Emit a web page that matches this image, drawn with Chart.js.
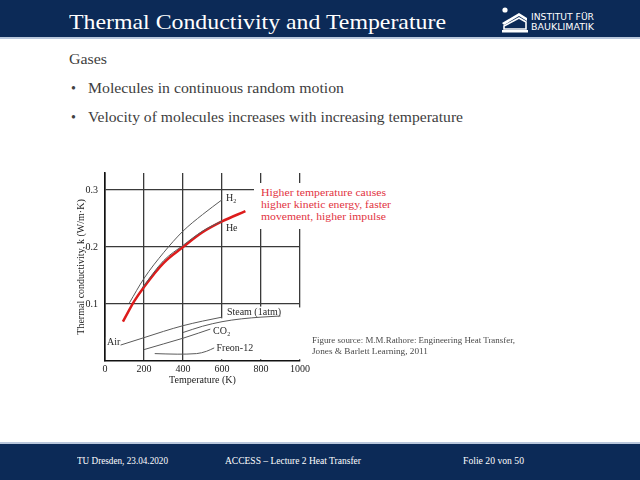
<!DOCTYPE html>
<html>
<head>
<meta charset="utf-8">
<script src="https://cdn.jsdelivr.net/npm/chart.js@4.4.0/dist/chart.umd.min.js"></script>
<style>
body { margin: 0; width: 640px; height: 480px; position: relative; overflow: hidden; background: #fff; }
.txt { position: absolute; white-space: nowrap; transform-origin: 0 0; line-height: 1; font-family: "Liberation Serif", "DejaVu Serif", serif; }
#head { position: absolute; left: 0; top: 0; width: 640px; height: 37px; background: #0c2a57; border-bottom: 2px solid #b9c7dc; }
#foot { position: absolute; left: 0; top: 442px; width: 640px; height: 38px; background: #0c2a57; border-top: 2px solid #b9c7dc; }
#chartBox { position: absolute; left: 60px; top: 160px; width: 260px; height: 235px; }
#noteBg { position: absolute; left: 254px; top: 183px; width: 146px; height: 46px; background: #fff; }
.note { color: #e2343f; font-size: 11px; }
.body { color: #404040; font-size: 14px; }
.foot { color: #fff; font-size: 10.5px; }
.src { color: #4a4a4a; font-size: 9px; }
.txt.logo { color: #fff; font-family: "DejaVu Sans", sans-serif; font-size: 9.5px; }
</style>
</head>
<body>
<div id="head"></div>
<div id="foot"></div>

<div class="txt" id="title" style="left:69px; top:10.6px; font-size:22px; color:#fff;">Thermal Conductivity and Temperature</div>
<svg style="position:absolute; left:500px; top:6px;" width="30" height="28" viewBox="0 0 30 28">
  <circle cx="5" cy="4" r="2.6" fill="#fff"/>
  <polygon points="2,17 19,7 27,12 27,15 19,10 4,19" fill="#fff"/>
  <polygon points="4,20 19,12 26,16 26,23 4,23" fill="none" stroke="#fff" stroke-width="1.6"/>
  <rect x="2" y="24" width="26" height="2.5" fill="#fff"/>
</svg>
<div class="txt logo" id="logo1" style="left:531px; top:12px;">INSTITUT FÜR</div>
<div class="txt logo" id="logo2" style="left:531px; top:21.5px;">BAUKLIMATIK</div>

<div class="txt body" id="gases" style="left:69px; top:53.3px;">Gases</div>
<div class="txt body" style="left:71px; top:82.3px;">•</div>
<div class="txt body" id="b1" style="left:88px; top:82.3px;">Molecules in continuous random motion</div>
<div class="txt body" style="left:71px; top:111px;">•</div>
<div class="txt body" id="b2" style="left:88px; top:111px;">Velocity of molecules increases with increasing temperature</div>

<div id="chartBox"><canvas id="kChart" width="260" height="235"></canvas></div>

<div id="noteBg"></div>
<div class="txt note" id="n1" style="left:261px; top:187px;">Higher temperature causes</div>
<div class="txt note" id="n2" style="left:261px; top:199.2px;">higher kinetic energy, faster</div>
<div class="txt note" id="n3" style="left:261px; top:211.4px;">movement, higher impulse</div>

<div class="txt src" id="s1" style="left:312px; top:336px;">Figure source: M.M.Rathore: Engineering Heat Transfer,</div>
<div class="txt src" id="s2" style="left:312px; top:347px;">Jones &amp; Barlett Learning, 2011</div>

<div class="txt foot" id="f1" style="left:77px; top:456px;">TU Dresden, 23.04.2020</div>
<div class="txt foot" id="f2" style="left:225px; top:456px;">ACCESS – Lecture 2 Heat Transfer</div>
<div class="txt foot" id="f3" style="left:463px; top:456px;">Folie 20 von 50</div>

<script>
// values (temperature in K, k in W/m·K)
const h2Temp = [125, 200, 300, 400, 500, 600];
const h2K = [0.102, 0.145, 0.19, 0.228, 0.257, 0.283];
const heTemp = [190, 300, 400, 500, 600];
const heK = [0.128, 0.176, 0.203, 0.228, 0.246];
const airTemp = [80, 200, 300, 400, 500, 600];
const airK = [0.028, 0.041, 0.052, 0.062, 0.07, 0.077];
const steamTemp = [400, 500, 600, 700, 800, 900];
const steamK = [0.05, 0.061, 0.069, 0.074, 0.077, 0.079];
const co2Temp = [200, 300, 400, 480, 540];
const co2K = [0.02, 0.03, 0.04, 0.049, 0.056];
const freonTemp = [255, 370, 470, 520, 560];
const freonK = [0.013, 0.012, 0.013, 0.017, 0.023];
// red hand-drawn highlight over the He curve
const redTemp = [92, 150, 200, 300, 400, 500, 600, 720];
const redK = [0.069, 0.105, 0.13, 0.172, 0.2, 0.226, 0.245, 0.263];

const tempTicks = [0, 200, 400, 600, 800, 1000];
const kTicks = [0.1, 0.2, 0.3];

const curveNames = ['H₂', 'He', 'Steam (1atm)', 'CO₂', 'Freon-12', 'Air'];
const nameTemp = [620, 620, 625, 554, 572, 10];
const nameK = [0.285, 0.233, 0.085, 0.052, 0.023, 0.032];

function pts(t, k) {
    return t.map(function(v, i) { return {x: v, y: k[i]}; });
}

function curve(t, k, color, width) {
    return {
        data: pts(t, k),
        borderColor: color,
        borderWidth: width,
        pointRadius: 0,
        cubicInterpolationMode: 'monotone',
        fill: false
    };
}

const curveNamesPlugin = {
    id: 'curveNames',
    beforeDatasetsDraw(chart) {
        const ctx = chart.ctx;
        const x = chart.scales.x;
        const y = chart.scales.y;
        ctx.save();
        ctx.fillStyle = '#fff';
        // the original figure has no grid in the lower right corner
        ctx.fillRect(x.getPixelForValue(610), y.getPixelForValue(0.094), x.right + 3 - x.getPixelForValue(610), y.getPixelForValue(0.003) - y.getPixelForValue(0.094));
        ctx.fillRect(x.getPixelForValue(590), y.getPixelForValue(0.075), x.getPixelForValue(20) - x.getPixelForValue(0), y.getPixelForValue(0.003) - y.getPixelForValue(0.075));
        ctx.font = '10px "Liberation Serif"';
        ctx.textBaseline = 'middle';
        for (let i = 0; i < curveNames.length; i++) {
            const px = x.getPixelForValue(nameTemp[i]);
            const py = y.getPixelForValue(nameK[i]);
            const w = ctx.measureText(curveNames[i]).width;
            ctx.fillStyle = '#fff';
            ctx.fillRect(px - 1, py - 6, w + 2, 12);
            ctx.fillStyle = '#2a2a2a';
            ctx.fillText(curveNames[i], px, py);
        }
        ctx.restore();
    }
};

const axisFont = {family: 'Liberation Serif', size: 10};

new Chart(document.getElementById('kChart').getContext('2d'), {
    type: 'line',
    data: {
        datasets: [
            curve(h2Temp, h2K, '#5a5a5a', 1),
            curve(heTemp, heK, '#5a5a5a', 1),
            curve(airTemp, airK, '#5a5a5a', 1),
            curve(steamTemp, steamK, '#5a5a5a', 1),
            curve(co2Temp, co2K, '#5a5a5a', 1),
            curve(freonTemp, freonK, '#5a5a5a', 1),
            curve(redTemp, redK, '#dd1c1c', 2.5)
        ]
    },
    options: {
        responsive: false,
        animation: false,
        devicePixelRatio: 1,
        layout: {padding: {top: 9.6, right: 20}},
        plugins: {legend: {display: false}, tooltip: {enabled: false}},
        scales: {
            x: {
                type: 'linear',
                min: 0,
                max: 1000,
                afterBuildTicks: function(s) { s.ticks = tempTicks.map(function(v) { return {value: v}; }); },
                afterFit: function(s) { s.height = 34; },
                grid: {color: '#3a3a3a', lineWidth: 1.3, drawTicks: false},
                border: {color: '#111', width: 1.6},
                ticks: {font: axisFont, color: '#222', padding: 2, maxRotation: 0,
                        callback: function(v) { return String(v); }},
                title: {display: true, text: 'Temperature (K)', font: axisFont, color: '#222', padding: {top: 0, bottom: 9}}
            },
            y: {
                type: 'linear',
                min: 0,
                max: 0.33,
                afterBuildTicks: function(s) { s.ticks = kTicks.map(function(v) { return {value: v}; }); },
                afterFit: function(s) { s.width = 45; },
                grid: {color: '#3a3a3a', lineWidth: 1.3, drawTicks: false},
                border: {color: '#111', width: 1.6},
                ticks: {font: axisFont, color: '#222', padding: 7,
                        callback: function(v) { return v.toFixed(1); }},
                title: {display: true, text: 'Thermal conductivity, k (W/m·K)', font: axisFont, color: '#222', padding: {top: 15, bottom: 0}}
            }
        }
    },
    plugins: [curveNamesPlugin]
});

// stretch each text line to the width it has on the slide
const widths = {
    title: 377, logo1: 63, logo2: 63, gases: 38, b1: 256, b2: 375,
    n1: 125, n2: 130, n3: 125, s1: 203, s2: 116, f1: 91, f2: 136, f3: 61
};
document.fonts.ready.then(function() {
    Object.keys(widths).forEach(function(id) {
        const el = document.getElementById(id);
        const w = el.getBoundingClientRect().width;
        el.style.transform = 'scaleX(' + (widths[id] / w) + ')';
    });
});
</script>
</body>
</html>
